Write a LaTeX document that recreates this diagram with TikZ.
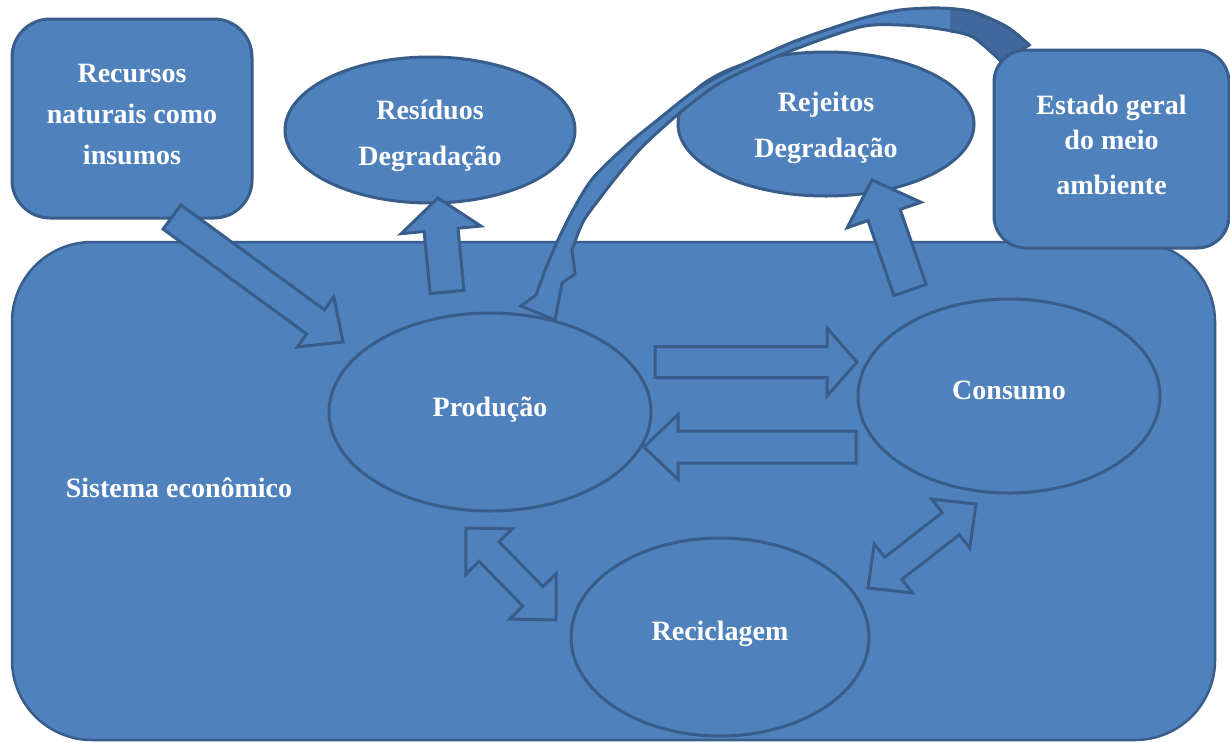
\documentclass[tikz,border=0pt]{standalone}
\usepackage{fontspec}
\setmainfont{Liberation Serif}[BoldFont={Liberation Serif Bold}]
\usetikzlibrary{shapes.geometric,calc,positioning}

\definecolor{boxfill}{HTML}{4F81BD}
\definecolor{boxline}{HTML}{385D8A}
\definecolor{boxdark}{HTML}{41699E}

\tikzset{
  bloco/.style={rectangle, rounded corners=38pt, fill=boxfill, draw=boxline, line width=3pt},
  elipse/.style={ellipse, fill=boxfill, draw=boxline, line width=3pt},
  seta/.style={fill=boxfill, draw=boxline, line width=3pt, line join=miter},
  rotulo/.style={text=white, inner sep=0pt, align=center, font={\bfseries\fontsize{28}{41}\selectfont}}
}

% block arrow: tail, tip, half shaft, half head, head length
\newcommand{\setabloco}[5]{%
  \filldraw[seta] let \p1=#1, \p2=#2, \n1={atan2(\y2-\y1,\x2-\x1)}, \n2={veclen(\x2-\x1,\y2-\y1)} in
    [shift={(\p1)}, rotate=\n1]
    (0pt,-#3pt) -- (\n2-#5pt,-#3pt) -- (\n2-#5pt,-#4pt) -- (\n2,0pt)
    -- (\n2-#5pt,#4pt) -- (\n2-#5pt,#3pt) -- (0pt,#3pt) -- cycle;
}
% double block arrow: tip, tip, half shaft, half head, head length
\newcommand{\setadupla}[5]{%
  \filldraw[seta] let \p1=#1, \p2=#2, \n1={atan2(\y2-\y1,\x2-\x1)}, \n2={veclen(\x2-\x1,\y2-\y1)} in
    [shift={(\p1)}, rotate=\n1]
    (0pt,0pt) -- (#5pt,-#4pt) -- (#5pt,-#3pt) -- (\n2-#5pt,-#3pt) -- (\n2-#5pt,-#4pt) -- (\n2,0pt)
    -- (\n2-#5pt,#4pt) -- (\n2-#5pt,#3pt) -- (#5pt,#3pt) -- (#5pt,#4pt) -- cycle;
}

\begin{document}
\begin{tikzpicture}[x=1pt,y=-1pt]
  \fill[white] (0,0) rectangle (1230,742);
  \useasboundingbox (0,0) rectangle (1230,742);

  \node[bloco, rounded corners=80pt, line width=2.5pt, minimum width=1203pt, minimum height=498pt] (sistema) at (613.5,491) {};
  \node[rotulo] (legenda) at (179,488) {Sistema econômico};

  \node[bloco, minimum width=240pt, minimum height=199pt,
        label={[rotulo, yshift=4pt]center:{Recursos\\naturais como\\insumos}}] (recursos) at (132,118.5) {};

  \node[elipse, minimum width=290pt, minimum height=146pt,
        label={[rotulo, yshift=-6pt]center:{Resíduos\\[5pt]Degradação}}] (residuos) at (430,130) {};
  \node[elipse, minimum width=296pt, minimum height=144pt,
        label={[rotulo, yshift=-4pt]center:{Rejeitos\\[5pt]Degradação}}] (rejeitos) at (826,124) {};
  \node[elipse, minimum width=322pt, minimum height=198pt,
        label={[rotulo, yshift=2pt]center:Produção}] (producao) at (490,412) {};
  \node[elipse, minimum width=302pt, minimum height=194pt,
        label={[rotulo, yshift=6pt]center:Consumo}] (consumo) at (1009,396) {};
  \node[elipse, minimum width=298pt, minimum height=198pt,
        label={[rotulo, yshift=3pt]center:Reciclagem}] (reciclagem) at (720,637) {};

  \setabloco{(172,217)}{(343,342)}{15}{31}{34}
  \setabloco{(447,292)}{(438,198)}{17}{40}{32}
  \setabloco{(910,290)}{(872,180)}{17}{39}{37}
  \setabloco{(655,362)}{(857,362)}{15.5}{34}{30}
  \setabloco{(856,447)}{(644,447)}{16}{32.5}{34}
  \setadupla{(466,528)}{(556,620)}{14}{32.5}{33}
  \setadupla{(976,504)}{(868,588)}{14}{31}{32}

  % curved arrow from the environment back to production
  \filldraw[seta] plot[smooth] coordinates {(1029,45) (1007,27) (973,12) (940,8) (900,10) (860,19)
      (793,42) (727,72) (693,92) (660,118) (627,145) (593,178) (573,210) (558,240) (546,268) (536,295)}
    -- (521,306) -- (555,320) -- (562,283) -- (575,274)
    -- plot[smooth] coordinates {(572,250) (583,222) (600,198) (622,170) (646,143) (688,106)
      (727,79) (793,50) (860,27) (900,25) (940,29) (973,37) (1002,62)}
    -- cycle;
  \fill[boxdark] plot[smooth] coordinates {(1029,45) (1007,27) (973,12) (950,9)}
    -- plot[smooth] coordinates {(950,31) (973,37) (1002,62)} -- cycle;
  \draw[seta, fill=none] plot[smooth] coordinates {(950,9) (973,12) (1007,27) (1029,45)}
    -- plot[smooth] coordinates {(1002,62) (973,37) (950,31)};

  \node[bloco, rounded corners=32pt, minimum width=235pt, minimum height=198pt,
        label={[rotulo, yshift=4pt]center:{Estado geral\\[-6pt]do meio\\[4pt]ambiente}}] (estado) at (1111.5,149) {};
\end{tikzpicture}
\end{document}
